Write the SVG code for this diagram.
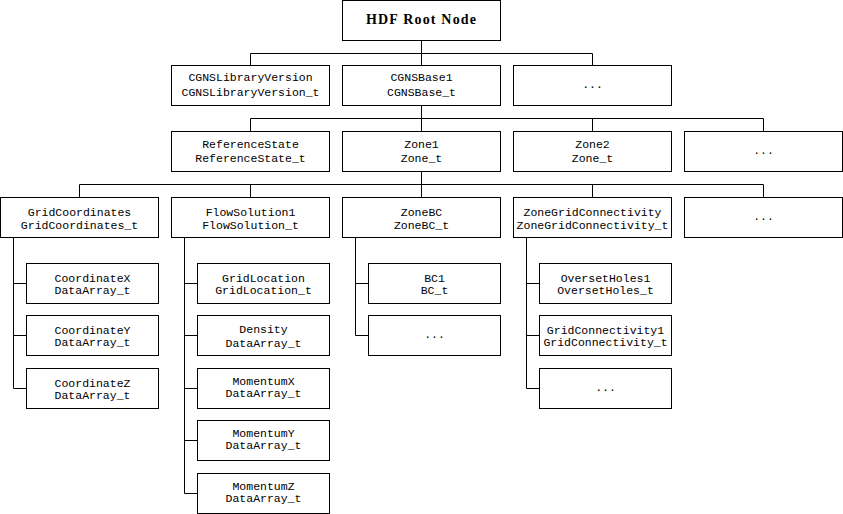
<svg xmlns="http://www.w3.org/2000/svg" width="843" height="514" viewBox="0 0 843 514">
<style>
rect{fill:#fff;stroke:#000;stroke-width:1}
.c line,.c polyline{stroke:#000;stroke-width:1;fill:none}
text{font-family:"Liberation Mono","DejaVu Sans Mono",monospace;font-size:11.5px;fill:#000;text-anchor:middle}
.root{font-family:"Liberation Serif","DejaVu Serif",serif;font-weight:bold;font-size:14px}
</style>
<rect x="0" y="0" width="843" height="514" style="stroke:none"/>
<g class="c" id="connectors">
<line x1="421.5" y1="40.5" x2="421.5" y2="65.5"/>
<polyline points="250.5,65.5 250.5,53.5 592.5,53.5 592.5,65.5"/>
<line x1="421.5" y1="105.5" x2="421.5" y2="131.5"/>
<polyline points="250.5,131.5 250.5,118.5 763.5,118.5 763.5,131.5"/>
<line x1="592.5" y1="118.5" x2="592.5" y2="131.5"/>
<line x1="421.5" y1="171.5" x2="421.5" y2="197.5"/>
<polyline points="79.5,197.5 79.5,184.5 763.5,184.5 763.5,197.5"/>
<line x1="250.5" y1="184.5" x2="250.5" y2="197.5"/>
<line x1="592.5" y1="184.5" x2="592.5" y2="197.5"/>
<polyline points="13.5,237.5 13.5,388.5 26.5,388.5"/>
<line x1="13.5" y1="283.5" x2="26.5" y2="283.5"/>
<line x1="13.5" y1="335.5" x2="26.5" y2="335.5"/>
<polyline points="184.5,237.5 184.5,493.5 197.5,493.5"/>
<line x1="184.5" y1="283.5" x2="197.5" y2="283.5"/>
<line x1="184.5" y1="335.5" x2="197.5" y2="335.5"/>
<line x1="184.5" y1="388.5" x2="197.5" y2="388.5"/>
<line x1="184.5" y1="440.5" x2="197.5" y2="440.5"/>
<polyline points="355.5,237.5 355.5,335.5 368.5,335.5"/>
<line x1="355.5" y1="283.5" x2="368.5" y2="283.5"/>
<polyline points="526.5,237.5 526.5,388.5 539.5,388.5"/>
<line x1="526.5" y1="283.5" x2="539.5" y2="283.5"/>
<line x1="526.5" y1="335.5" x2="539.5" y2="335.5"/>
</g>
<g id="root"><rect x="342.5" y="0.5" width="158" height="40"/><text class="root" x="421" y="24" textLength="110">HDF Root Node</text></g>
<g id="cgnslibver"><rect x="171.5" y="65.5" width="158" height="40"/><text x="250.5" y="81">CGNSLibraryVersion</text><text x="250.5" y="96">CGNSLibraryVersion_t</text></g>
<g id="cgnsbase1"><rect x="342.5" y="65.5" width="158" height="40"/><text x="421.5" y="81">CGNSBase1</text><text x="421.5" y="96">CGNSBase_t</text></g>
<g id="l1more"><rect x="513.5" y="65.5" width="158" height="40"/><text x="592.5" y="88">...</text></g>
<g id="refstate"><rect x="171.5" y="131.5" width="158" height="40"/><text x="250.5" y="148">ReferenceState</text><text x="250.5" y="161.5">ReferenceState_t</text></g>
<g id="zone1"><rect x="342.5" y="131.5" width="158" height="40"/><text x="421.5" y="148">Zone1</text><text x="421.5" y="161.5">Zone_t</text></g>
<g id="zone2"><rect x="513.5" y="131.5" width="158" height="40"/><text x="592.5" y="148">Zone2</text><text x="592.5" y="161.5">Zone_t</text></g>
<g id="l2more"><rect x="684.5" y="131.5" width="158" height="40"/><text x="763.5" y="154">...</text></g>
<g id="gridcoords"><rect x="0.5" y="197.5" width="158" height="40"/><text x="79.5" y="215.5">GridCoordinates</text><text x="79.5" y="229">GridCoordinates_t</text></g>
<g id="flowsol1"><rect x="171.5" y="197.5" width="158" height="40"/><text x="250.5" y="215.5">FlowSolution1</text><text x="250.5" y="229">FlowSolution_t</text></g>
<g id="zonebc"><rect x="342.5" y="197.5" width="158" height="40"/><text x="421.5" y="215.5">ZoneBC</text><text x="421.5" y="229">ZoneBC_t</text></g>
<g id="zgc"><rect x="513.5" y="197.5" width="158" height="40"/><text x="592.5" y="215.5">ZoneGridConnectivity</text><text x="592.5" y="229">ZoneGridConnectivity_t</text></g>
<g id="l3more"><rect x="684.5" y="197.5" width="158" height="40"/><text x="763.5" y="220">...</text></g>
<g id="coordx"><rect x="26.5" y="263.5" width="132" height="40"/><text x="92.5" y="281.5">CoordinateX</text><text x="92.5" y="293.5">DataArray_t</text></g>
<g id="coordy"><rect x="26.5" y="315.5" width="132" height="40"/><text x="92.5" y="333.5">CoordinateY</text><text x="92.5" y="345.5">DataArray_t</text></g>
<g id="coordz"><rect x="26.5" y="368.5" width="132" height="40"/><text x="92.5" y="386.5">CoordinateZ</text><text x="92.5" y="398.5">DataArray_t</text></g>
<g id="gridloc"><rect x="197.5" y="263.5" width="132" height="40"/><text x="263.5" y="281.5">GridLocation</text><text x="263.5" y="293.5">GridLocation_t</text></g>
<g id="density"><rect x="197.5" y="315.5" width="132" height="40"/><text x="263.5" y="332.5">Density</text><text x="263.5" y="346.5">DataArray_t</text></g>
<g id="momx"><rect x="197.5" y="368.5" width="132" height="40"/><text x="263.5" y="385">MomentumX</text><text x="263.5" y="397">DataArray_t</text></g>
<g id="momy"><rect x="197.5" y="420.5" width="132" height="40"/><text x="263.5" y="437">MomentumY</text><text x="263.5" y="449">DataArray_t</text></g>
<g id="momz"><rect x="197.5" y="473.5" width="132" height="40"/><text x="263.5" y="490">MomentumZ</text><text x="263.5" y="502">DataArray_t</text></g>
<g id="bc1"><rect x="368.5" y="263.5" width="132" height="40"/><text x="434.5" y="281.5">BC1</text><text x="434.5" y="293.5">BC_t</text></g>
<g id="bcmore"><rect x="368.5" y="315.5" width="132" height="40"/><text x="434.5" y="338">...</text></g>
<g id="oversetholes1"><rect x="539.5" y="263.5" width="132" height="40"/><text x="605.5" y="281.5">OversetHoles1</text><text x="605.5" y="293.5">OversetHoles_t</text></g>
<g id="gridconn1"><rect x="539.5" y="315.5" width="132" height="40"/><text x="605.5" y="333.5">GridConnectivity1</text><text x="605.5" y="345.5">GridConnectivity_t</text></g>
<g id="zgcmore"><rect x="539.5" y="368.5" width="132" height="40"/><text x="605.5" y="391">...</text></g>
</svg>
